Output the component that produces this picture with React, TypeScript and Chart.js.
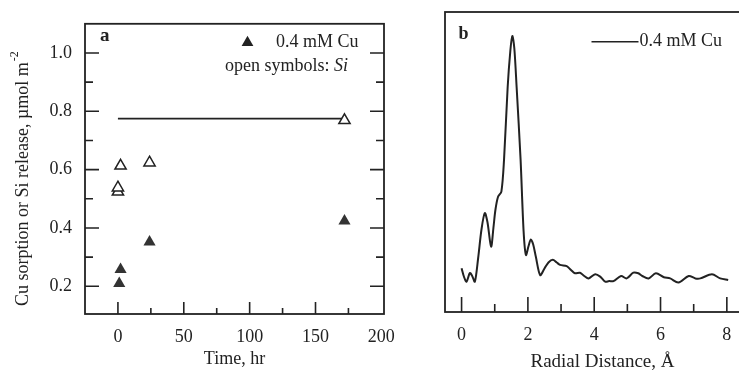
import React, { useEffect, useRef } from 'react';
import { Chart, registerables } from 'chart.js';

Chart.register(...registerables);

const FONT = '"Liberation Serif", "Times New Roman", serif';
const INK = '#222222';

// ---------- Panel a: Cu sorption / Si release vs time ----------
const CU_TIME = [1, 2, 24, 172];
const CU_SORPTION = [0.21, 0.258, 0.352, 0.424];
const SI_TIME = [0, 0, 2, 24, 172];
const SI_RELEASE = [0.524, 0.538, 0.613, 0.624, 0.769];
const SI_LINE_TIME = [0, 172];
const SI_LINE_VALUE = [0.775, 0.775];
const TIME_TICKS = [0, 50, 100, 150, 200];
const TIME_MINOR = [25, 75, 125, 175];
const SORPTION_TICKS = [0.2, 0.4, 0.6, 0.8, 1.0];
const SORPTION_MINOR = [0.3, 0.5, 0.7, 0.9];

// ---------- Panel b: radial structure function ----------
const RADIAL_DISTANCE = [
  0.0, 0.08, 0.15, 0.25, 0.32, 0.4, 0.5, 0.6, 0.7, 0.78, 0.89, 0.96, 1.02, 1.1, 1.2,
  1.28, 1.39, 1.47, 1.53, 1.59, 1.66, 1.78, 1.87, 1.94, 2.02, 2.09, 2.16, 2.24, 2.37,
  2.5, 2.62, 2.75, 2.87, 2.97, 3.17, 3.3, 3.42, 3.57, 3.7, 3.83, 4.03, 4.18, 4.33,
  4.45, 4.58, 4.81, 4.98, 5.18, 5.33, 5.45, 5.64, 5.86, 6.1, 6.29, 6.54, 6.85, 7.05,
  7.2, 7.55, 7.8, 8.04,
];
const FT_MAGNITUDE = [
  1.46, 1.15, 1.01, 1.3, 1.2, 1.01, 1.8, 2.75, 3.3, 3.0, 2.18, 2.8, 3.4, 3.84, 4.01,
  5.07, 7.5, 8.7, 9.2, 8.8, 7.5, 5.07, 2.7, 1.9, 2.2, 2.42, 2.25, 1.84, 1.23,
  1.45, 1.65, 1.74, 1.65, 1.57, 1.53, 1.4, 1.29, 1.31, 1.2, 1.12, 1.26, 1.18, 1.01,
  1.03, 1.03, 1.2, 1.12, 1.31, 1.29, 1.2, 1.12, 1.29, 1.16, 1.12, 0.98, 1.2, 1.12,
  1.12, 1.26, 1.12, 1.07,
];
const RADIAL_TICKS = [0, 2, 4, 6, 8];
const RADIAL_MINOR = [1, 3, 5, 7];

const pts = (xs: number[], ys: number[]) => xs.map((x, i) => ({ x, y: ys[i] }));

type FrameCfg = {
  xMajor: number[];
  xMinor: number[];
  yMajor: number[];
  yMinor: number[];
  xLen: [number, number];
  yLen: [number, number];
  ySides: boolean;
};

function framePlugin(cfg: FrameCfg) {
  return {
    id: 'frameTicks',
    afterDraw(chart: any) {
      const { ctx, chartArea: a, scales } = chart;
      const xs = scales.x;
      const ys = scales.y;
      ctx.save();
      ctx.strokeStyle = INK;
      ctx.lineWidth = 1.8;
      ctx.lineCap = 'butt';
      ctx.strokeRect(a.left, a.top, a.right - a.left, a.bottom - a.top);
      ctx.lineWidth = 1.6;
      ctx.beginPath();
      const xt = (vals: number[], len: number) => {
        vals.forEach((v) => {
          const p = xs.getPixelForValue(v);
          if (p < a.left + 4 || p > a.right - 4) return;
          ctx.moveTo(p, a.bottom);
          ctx.lineTo(p, a.bottom - len);
        });
      };
      xt(cfg.xMajor, cfg.xLen[0]);
      xt(cfg.xMinor, cfg.xLen[1]);
      if (cfg.ySides) {
        const yt = (vals: number[], len: number) => {
          vals.forEach((v) => {
            const p = ys.getPixelForValue(v);
            if (p < a.top + 4 || p > a.bottom - 4) return;
            ctx.moveTo(a.left, p);
            ctx.lineTo(a.left + len, p);
            ctx.moveTo(a.right, p);
            ctx.lineTo(a.right - len, p);
          });
        };
        yt(cfg.yMajor, cfg.yLen[0]);
        yt(cfg.yMinor, cfg.yLen[1]);
      }
      ctx.stroke();
      ctx.restore();
    },
  };
}

const panelALabels = {
  id: 'panelALabels',
  afterDraw(chart: any) {
    const { ctx } = chart;
    ctx.save();
    ctx.fillStyle = INK;
    // panel letter
    ctx.font = `bold 19px ${FONT}`;
    ctx.textAlign = 'left';
    ctx.textBaseline = 'alphabetic';
    ctx.fillText('a', 100, 41);
    // legend
    const tx = 247.5, ty = 42.5, r = 6.8;
    ctx.beginPath();
    ctx.moveTo(tx, ty - r);
    ctx.lineTo(tx + r * 0.866, ty + r / 2);
    ctx.lineTo(tx - r * 0.866, ty + r / 2);
    ctx.closePath();
    ctx.fill();
    ctx.font = `18px ${FONT}`;
    ctx.fillText('0.4 mM Cu', 276, 46.5);
    const pre = 'open symbols: ';
    ctx.fillText(pre, 225, 71);
    const w = ctx.measureText(pre).width;
    ctx.font = `italic 18px ${FONT}`;
    ctx.fillText('Si', 225 + w, 71);
    // y-axis title (rotated)
    ctx.translate(23, 306);
    ctx.rotate(-Math.PI / 2);
    ctx.font = `18px ${FONT}`;
    ctx.textBaseline = 'middle';
    const main = 'Cu sorption or Si release, \u00b5mol m';
    ctx.fillText(main, 0, 0);
    const mw = ctx.measureText(main).width;
    ctx.font = `12px ${FONT}`;
    ctx.fillText('-2', mw + 1, -8);
    ctx.restore();
  },
};

const panelBLabels = {
  id: 'panelBLabels',
  afterDraw(chart: any) {
    const { ctx } = chart;
    ctx.save();
    ctx.fillStyle = INK;
    ctx.strokeStyle = INK;
    ctx.font = `bold 18px ${FONT}`;
    ctx.textBaseline = 'alphabetic';
    ctx.textAlign = 'left';
    ctx.fillText('b', 38.5, 39);
    ctx.lineWidth = 1.6;
    ctx.beginPath();
    ctx.moveTo(171.5, 41.7);
    ctx.lineTo(218.5, 41.7);
    ctx.stroke();
    ctx.font = `18px ${FONT}`;
    ctx.fillText('0.4 mM Cu', 219.5, 46);
    ctx.restore();
  },
};

const baseOpts = {
  responsive: false,
  animation: false as const,
  devicePixelRatio: 1,
  events: [] as any[],
  plugins: { legend: { display: false }, tooltip: { enabled: false } },
};

export default function App() {
  const refA = useRef<HTMLCanvasElement>(null);
  const refB = useRef<HTMLCanvasElement>(null);

  useEffect(() => {
    const chartA = new Chart(refA.current!, {
      type: 'scatter',
      data: {
        datasets: [
          {
            label: 'Si release',
            data: pts(SI_TIME, SI_RELEASE),
            pointStyle: 'triangle',
            pointRadius: 6.5,
            borderWidth: 1.5,
            borderColor: INK,
            backgroundColor: '#ffffff',
            order: 0,
          },
          {
            label: '0.4 mM Cu',
            data: pts(CU_TIME, CU_SORPTION),
            pointStyle: 'triangle',
            pointRadius: 7,
            borderWidth: 0,
            borderColor: '#333333',
            backgroundColor: '#333333',
            order: 1,
          },
          {
            label: 'Si trend',
            data: pts(SI_LINE_TIME, SI_LINE_VALUE),
            showLine: true,
            pointRadius: 0,
            borderWidth: 1.6,
            borderColor: INK,
            order: 2,
          },
        ],
      },
      options: {
        ...baseOpts,
        layout: { padding: { left: 0, top: 15, right: 36, bottom: 0 } },
        scales: {
          x: {
            type: 'linear',
            min: -25,
            max: 202,
            afterFit: (s: any) => { s.height = 65; },
            afterBuildTicks: (s: any) => { s.ticks = TIME_TICKS.map((v) => ({ value: v })); },
            grid: { display: false, drawTicks: false },
            border: { display: false },
            ticks: { autoSkip: false, maxRotation: 0, padding: 12, color: INK, font: { family: FONT, size: 18 } },
            title: { display: true, text: 'Time, hr', color: INK, font: { family: FONT, size: 18 }, padding: { top: 0, bottom: 9 } },
          },
          y: {
            type: 'linear',
            min: 0.105,
            max: 1.1,
            afterFit: (s: any) => { s.width = 85; },
            afterBuildTicks: (s: any) => { s.ticks = SORPTION_TICKS.map((v) => ({ value: v })); },
            grid: { display: false, drawTicks: false },
            border: { display: false },
            ticks: {
              autoSkip: false,
              padding: 13,
              color: INK,
              font: { family: FONT, size: 18 },
              callback: (v: any) => Number(v).toFixed(1),
            },
          },
        },
      },
      plugins: [
        framePlugin({
          xMajor: TIME_TICKS, xMinor: TIME_MINOR, yMajor: SORPTION_TICKS, yMinor: SORPTION_MINOR,
          xLen: [12, 6], yLen: [14, 8], ySides: true,
        }),
        panelALabels,
      ],
    } as any);

    const chartB = new Chart(refB.current!, {
      type: 'scatter',
      data: {
        datasets: [
          {
            label: '0.4 mM Cu',
            data: pts(RADIAL_DISTANCE, FT_MAGNITUDE),
            showLine: true,
            pointRadius: 0,
            borderWidth: 2,
            borderColor: INK,
            tension: 0.3,
          },
        ],
      },
      options: {
        ...baseOpts,
        layout: { padding: { left: 25, top: 12, right: 1, bottom: 0 } },
        scales: {
          x: {
            type: 'linear',
            min: -0.5,
            max: 9,
            afterFit: (s: any) => { s.height = 67; },
            afterBuildTicks: (s: any) => { s.ticks = RADIAL_TICKS.map((v) => ({ value: v })); },
            grid: { display: false, drawTicks: false },
            border: { display: false },
            ticks: { autoSkip: false, maxRotation: 0, padding: 12, color: INK, font: { family: FONT, size: 18 } },
            title: { display: true, text: 'Radial Distance, \u00c5', color: INK, font: { family: FONT, size: 19 }, padding: { top: 0, bottom: 6 } },
          },
          y: {
            type: 'linear',
            display: false,
            min: 0,
            max: 10,
          },
        },
      },
      plugins: [
        framePlugin({
          xMajor: RADIAL_TICKS, xMinor: RADIAL_MINOR, yMajor: [], yMinor: [],
          xLen: [15, 8], yLen: [0, 0], ySides: false,
        }),
        panelBLabels,
      ],
    } as any);

    return () => {
      chartA.destroy();
      chartB.destroy();
    };
  }, []);

  return (
    <div
      style={{
        position: 'absolute',
        left: 0,
        top: 0,
        width: 739,
        height: 379,
        overflow: 'hidden',
        background: '#ffffff',
      }}
    >
      <canvas
        ref={refA}
        width={420}
        height={379}
        style={{ position: 'absolute', left: 0, top: 0, width: 420, height: 379 }}
      />
      <canvas
        ref={refB}
        width={341}
        height={379}
        style={{ position: 'absolute', left: 420, top: 0, width: 341, height: 379 }}
      />
    </div>
  );
}
